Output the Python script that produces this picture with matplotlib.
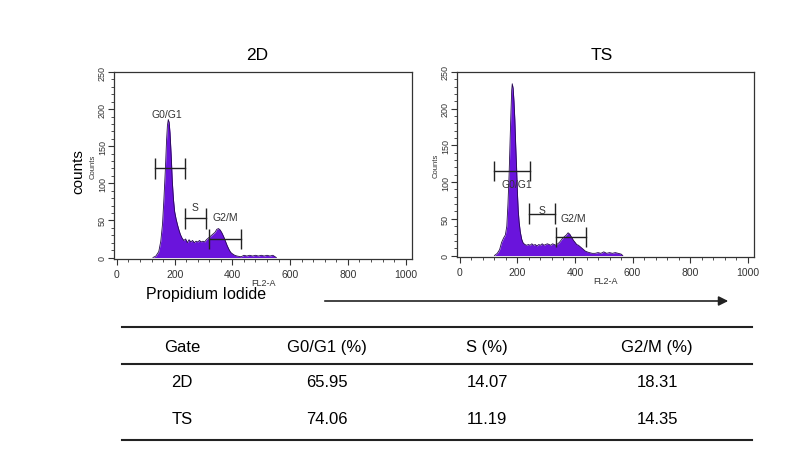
"""
Cell cycle histograms (PI staining) for 2D and TS cultures, with gate table
"""

import numpy as np
import matplotlib.pyplot as plt

plt.rcParams['font.family'] = ['Liberation Sans', 'DejaVu Sans']

# FL2-A channel vs counts
x_2d = [125, 135, 145, 152, 158, 163, 168, 172, 175, 178, 181, 184, 188, 192, 196,
        200, 205, 210, 215, 220, 226, 232, 238, 244, 250, 256, 262, 268, 274, 280,
        286, 292, 298, 304, 310, 316, 322, 328, 334, 340, 346, 352, 358, 364, 370,
        376, 382, 388, 394, 400, 408, 416, 430, 440, 450, 460, 470, 480, 490, 500,
        510, 520, 530, 540, 548, 552]
y_2d = [0, 2, 8, 22, 45, 80, 120, 158, 178, 186, 182, 168, 138, 102, 78,
        62, 52, 44, 37, 31, 26, 23, 25, 20, 24, 21, 23, 20, 22, 21,
        23, 21, 22, 21, 24, 26, 28, 30, 32, 34, 38, 39, 37, 33, 28,
        22, 16, 11, 7, 5, 3, 2, 1, 3, 2, 3, 2, 3, 2, 3,
        2, 3, 2, 3, 1, 0]

x_ts = [120, 130, 138, 145, 152, 158, 163, 167, 171, 174, 177, 180, 182, 185, 188,
        191, 194, 197, 200, 203, 206, 210, 215, 220, 226, 232, 238, 244, 250, 256,
        262, 268, 274, 280, 286, 292, 298, 304, 310, 316, 322, 328, 334, 340, 346,
        352, 358, 364, 370, 376, 382, 388, 394, 400, 406, 412, 418, 424, 430, 436,
        442, 450, 460, 470, 480, 490, 500, 510, 520, 530, 540, 550, 560, 566]
y_ts = [0, 3, 8, 18, 24, 28, 40, 70, 110, 150, 190, 225, 234, 228, 210,
        185, 150, 120, 85, 60, 45, 32, 22, 17, 15, 14, 15, 14, 16, 14,
        15, 13, 15, 14, 16, 14, 15, 16, 15, 14, 16, 15, 14, 16, 18,
        21, 24, 26, 28, 31, 29, 25, 21, 18, 15, 14, 12, 10, 8, 6,
        5, 4, 3, 3, 4, 3, 5, 3, 4, 3, 4, 3, 2, 0]

# gates: (label, start, end, level)
gates_2d = [('G0/G1', 133, 235, 120), ('S', 235, 310, 53), ('G2/M', 319, 429, 25)]
gates_ts = [('G0/G1', 120, 245, 115), ('S', 239, 329, 57), ('G2/M', 333, 438, 25)]

# gate label positions (x, y) in data units
labels_2d = [(174, 194), (270, 68), (376, 54)]
labels_ts = [(198, 98), (285, 62), (394, 51)]

# table
col_names = ['Gate', 'G0/G1 (%)', 'S (%)', 'G2/M (%)']
row_names = ['2D', 'TS']
g0g1 = [65.95, 74.06]
s_phase = [14.07, 11.19]
g2m = [18.31, 14.35]

W, H = 791, 452
fig = plt.figure(figsize=(W / 100, H / 100), dpi=100)


def px_axes(l, t, r, b):
    return fig.add_axes([l / W, 1 - b / H, (r - l) / W, (b - t) / H])


def draw_hist(ax, x, y, gates, labels):
    ax.fill_between(x, y, 0, color='#6a14dc', lw=0)
    ax.plot(x, y, color='#25084f', lw=0.6)
    for (name, a, b, lev), (tx, ty) in zip(gates, labels):
        ax.plot([a, b], [lev, lev], color='#222222', lw=1)
        ax.vlines([a, b], lev - 14, lev + 14, color='#222222', lw=1)
        ax.text(tx, ty, name, fontsize=7.5, color='#333333', ha='center', va='center')
    ax.set_xlim(-10, 1022)
    ax.set_ylim(-2, 250)
    ax.set_xticks(np.arange(0, 1001, 200))
    ax.set_xticks(np.arange(0, 1001, 40), minor=True)
    ax.set_yticks(np.arange(0, 251, 50))
    ax.set_yticks(np.arange(0, 251, 10), minor=True)
    ax.tick_params(which='major', length=4, width=0.8, labelsize=7.5, colors='#333333')
    ax.tick_params(which='minor', length=2, width=0.6, colors='#333333')
    ax.tick_params(axis='y', labelsize=6.5, labelrotation=90, pad=1)
    for t in ax.get_yticklabels():
        t.set_va('center')
    for s in ax.spines.values():
        s.set_linewidth(0.9)
        s.set_color('#333333')
    ax.set_xlabel('FL2-A', fontsize=6.5, color='#333333', labelpad=-1)
    ax.set_ylabel('Counts', fontsize=5.5, color='#333333', labelpad=1)


ax1 = px_axes(114, 73, 412, 260)
draw_hist(ax1, x_2d, y_2d, gates_2d, labels_2d)
ax2 = px_axes(457, 73, 754, 258)
draw_hist(ax2, x_ts, y_ts, gates_ts, labels_ts)

fig.text(257 / W, 1 - 55 / H, '2D', fontsize=12.5, ha='center', va='center')
fig.text(602 / W, 1 - 55 / H, 'TS', fontsize=12.5, ha='center', va='center')
fig.text(78 / W, 1 - 172 / H, 'counts', fontsize=11, rotation=90, ha='center', va='center')
fig.text(206 / W, 1 - 299 / H, 'Propidium Iodide', fontsize=11.5, ha='center', va='baseline')
fig.patches.append(plt.matplotlib.patches.FancyArrowPatch(
    (322 / W, 1 - 302 / H), (731 / W, 1 - 302 / H), transform=fig.transFigure,
    arrowstyle='-|>', mutation_scale=14, lw=1.2, color='#222222'))

# table drawn on an overlay axes in pixel coords
tab = fig.add_axes([0, 0, 1, 1])
tab.set_xlim(0, W)
tab.set_ylim(H, 0)
tab.axis('off')
for yl in [328, 365, 441]:
    tab.plot([122, 752], [yl, yl], color='#222222', lw=1.5)
col_x = [182, 327, 487, 657]
for cx, name in zip(col_x, col_names):
    tab.text(cx, 348, name, fontsize=12, ha='center', va='center')
for i, (rn, ry) in enumerate(zip(row_names, [383, 420])):
    vals = [rn, f'{g0g1[i]:.2f}', f'{s_phase[i]:.2f}', f'{g2m[i]:.2f}']
    for cx, v in zip(col_x, vals):
        tab.text(cx, ry, v, fontsize=12, ha='center', va='center')

fig.savefig('out.png', dpi=100)
